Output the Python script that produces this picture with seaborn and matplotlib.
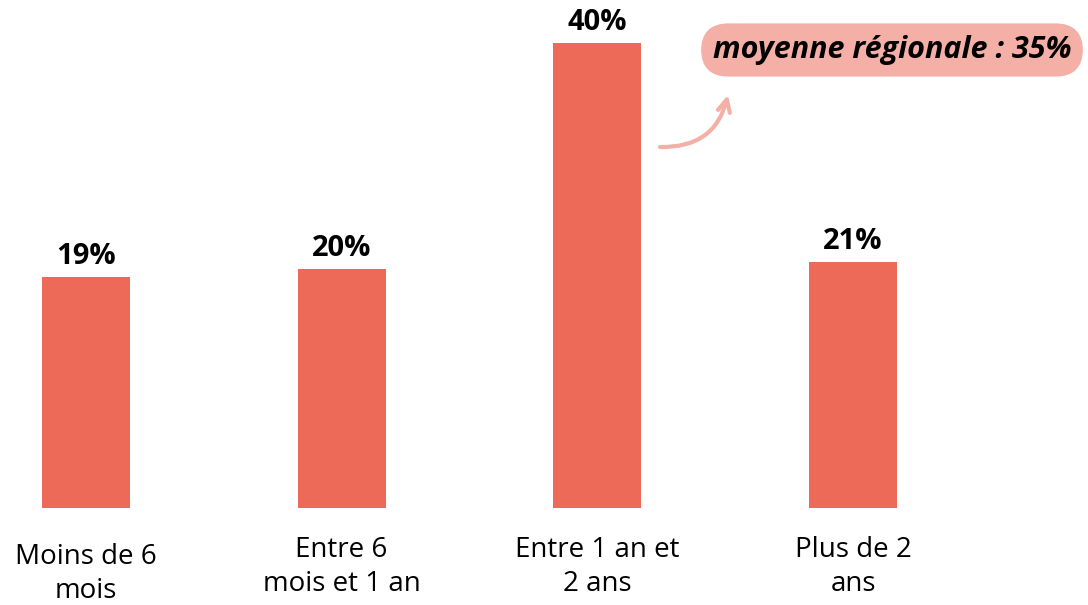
import seaborn as sns
import matplotlib.pyplot as plt
import matplotlib.transforms as mtransforms
import pandas as pd

categories = ["Moins de 6\nmois", "Entre 6\nmois et 1 an", "Entre 1 an et\n2 ans", "Plus de 2\nans"]
# bar heights (labels shown are truncated)
values = [19.9, 20.6, 40.0, 21.2]
value_labels = ["19%", "20%", "40%", "21%"]
note = "moyenne régionale : 35%"

bar_color = "#EE6A58"
pink = "#F4AFA7"

sns.set_theme(style="white")
plt.rcParams['font.family'] = ['Open Sans', 'DejaVu Sans']

df = pd.DataFrame({'cat': categories, 'val': values})

fig = plt.figure(figsize=(10.88, 6.05), dpi=100)
ax = fig.add_axes([0, 97/605, 1, 508/605])

sns.barplot(data=df, x='cat', y='val', color=bar_color, saturation=1,
            width=0.345, ax=ax, edgecolor='none')

ax.set_xlim(-86/255.67, (1088-86)/255.67)
ax.set_ylim(0, 508/11.625)
sns.despine(ax=ax, left=True, bottom=True)
ax.set_yticks([])
ax.set_xlabel("")
ax.set_ylabel("")
ax.tick_params(axis='x', length=0, pad=20, labelsize=20, labelcolor='black')
for lab in ax.get_xticklabels():
    lab.set_linespacing(1.3)
# first label sits a little lower
first = ax.get_xticklabels()[0]
first.set_transform(first.get_transform() + mtransforms.ScaledTranslation(0, -7/100, fig.dpi_scale_trans))

ax.bar_label(ax.containers[0], labels=value_labels, padding=4,
             fontsize=21, fontweight='bold', color='black')

# regional average note
fig.text(892/1088, 1 - 50/605, note, ha='center', va='center', fontsize=22,
         fontweight='bold', style='italic', color='black',
         bbox=dict(boxstyle='round,pad=0.38,rounding_size=0.9', fc=pink, ec='none'))

ax.annotate("", xy=(728, 605-95), xytext=(660, 605-147),
            xycoords='figure pixels', textcoords='figure pixels',
            arrowprops=dict(arrowstyle='->', connectionstyle='arc3,rad=0.4',
                            color=pink, lw=3, mutation_scale=22,
                            shrinkA=0, shrinkB=0))

plt.savefig('out.png', dpi=100)
